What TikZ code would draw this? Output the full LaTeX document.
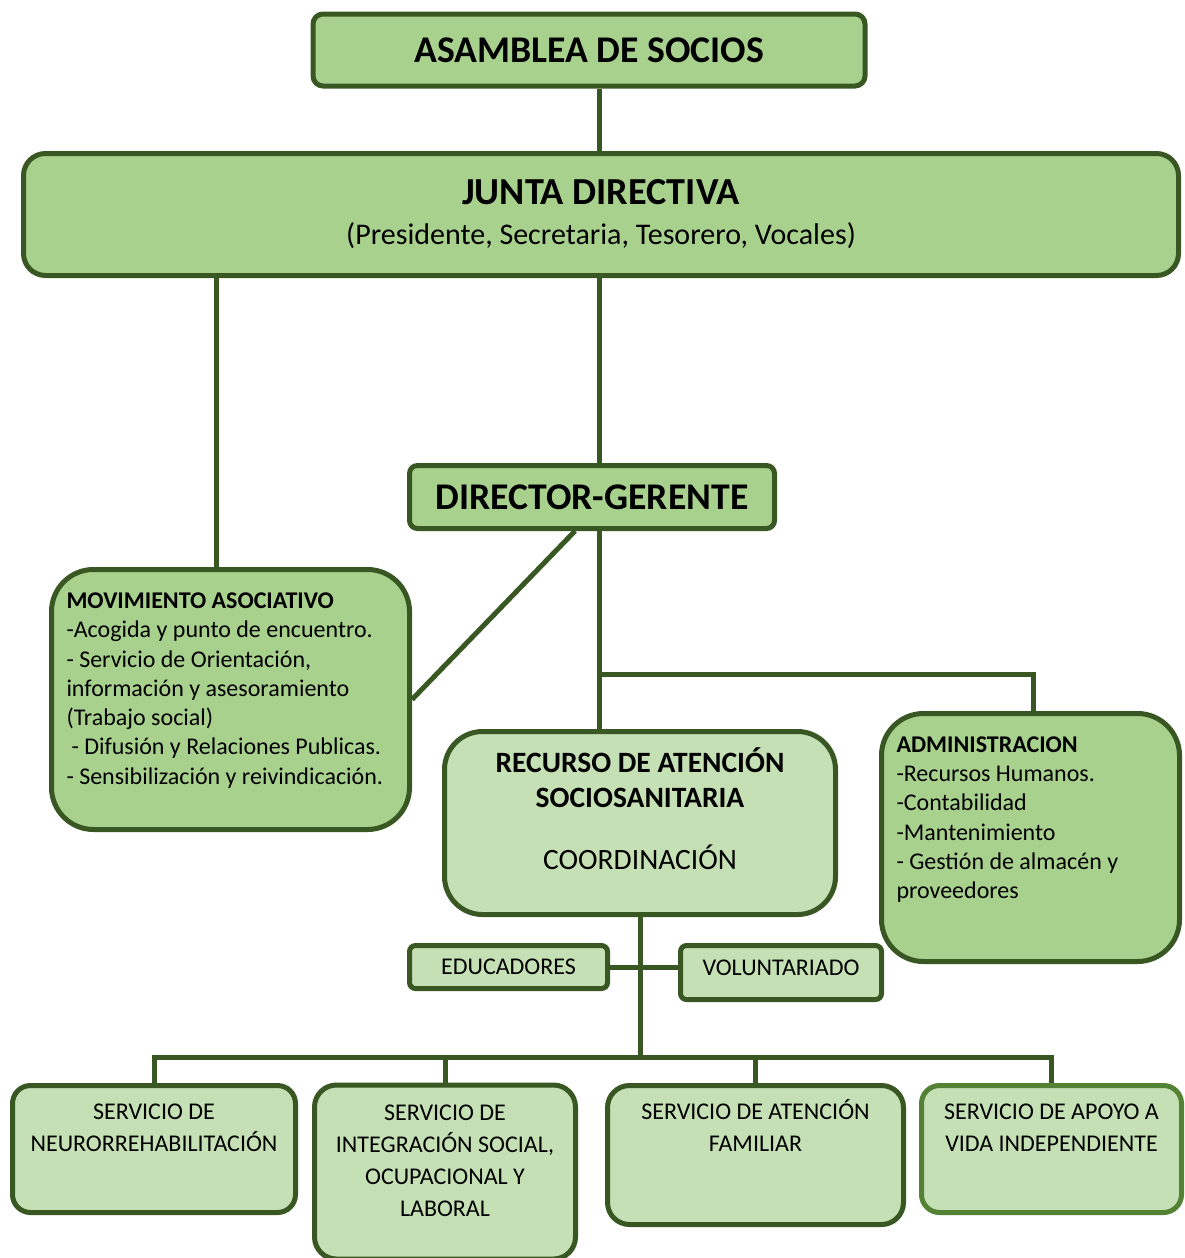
\documentclass[tikz,border=0pt]{standalone}
\usepackage{fontspec}
\setmainfont{Carlito}
\usetikzlibrary{positioning}

\definecolor{verdeoscuro}{HTML}{385723}
\definecolor{verdeborde}{HTML}{548235}
\definecolor{verdemedio}{HTML}{A9D18E}
\definecolor{verdeclaro}{HTML}{C5E0B4}

\newcommand{\titulo}{\fontsize{37.7}{40}\selectfont\bfseries}
\newcommand{\texto}{\fontsize{24}{29.3}\selectfont}
\newcommand{\servicio}{\fontsize{24}{32}\selectfont}
\newcommand{\hueco}[1]{\rule[-#1]{0pt}{#1}}

\tikzset{
  caja/.style={draw=verdeoscuro, line width=5pt, fill=verdemedio, inner sep=0pt, align=center},
  clara/.style={caja, fill=verdeclaro},
  lista/.style={caja, align=flush left, inner xsep=15pt},
  linea/.style={draw=verdeoscuro, line width=5pt},
}

\begin{document}
\begin{tikzpicture}[x=1pt, y=-1pt]
  \useasboundingbox (0,0) rectangle (1185,1258);

  \node[caja, rounded corners=10pt, minimum width=552pt, minimum height=72pt] (asamblea) at (589,50) {\titulo ASAMBLEA DE SOCIOS};
  \node[caja, rounded corners=22pt, minimum width=1155pt, minimum height=122pt, font=\fontsize{30}{40}\selectfont] (junta) at (601,214.5)
    {{\titulo\fontsize{38.2}{40}\selectfont JUNTA DIRECTIVA}\\ (Presidente, Secretaria, Tesorero, Vocales)};
  \node[caja, rounded corners=8pt, minimum width=365pt, minimum height=63pt] (director) at (592,497) {\titulo DIRECTOR-GERENTE};

  \node[lista, rounded corners=42pt, minimum width=358pt, minimum height=260pt, text width=328pt, font=\texto] (movimiento) at (230.5,699.5)
    {\textbf{MOVIMIENTO ASOCIATIVO}\\ -Acogida y punto de encuentro.\\ - Servicio de Orientación,\\ información y asesoramiento\\ (Trabajo social)\\
     \hspace*{5pt}- Difusión y Relaciones Publicas.\\ - Sensibilización y reivindicación.\hueco{22pt}};
  \node[clara, rounded corners=38pt, minimum width=391pt, minimum height=183pt, font=\fontsize{29.5}{35}\selectfont] (recurso) at (640,823)
    {\textbf{RECURSO DE ATENCIÓN}\\ \textbf{SOCIOSANITARIA}\\[27pt] COORDINACIÓN\hueco{28pt}};
  \node[lista, rounded corners=42pt, minimum width=298pt, minimum height=248pt, text width=268pt, font=\texto] (admin) at (1030.5,837.5)
    {\textbf{ADMINISTRACION}\\ -Recursos Humanos.\\ -Contabilidad\\ -Mantenimiento\\ - Gestión de almacén y\\ proveedores\hueco{40pt}};

  \node[clara, rounded corners=6pt, minimum width=198pt, minimum height=43pt, font=\texto] (educadores) at (508.5,967) {EDUCADORES};
  \node[clara, rounded corners=6pt, minimum width=201pt, minimum height=54pt, font=\texto] (voluntariado) at (781,972.5) {VOLUNTARIADO\hueco{10pt}};

  \node[clara, rounded corners=18pt, minimum width=283pt, minimum height=127pt, font=\servicio] (neuro) at (154,1149)
    {SERVICIO DE\\ NEURORREHABILITACIÓN\hueco{42pt}};
  \node[clara, rounded corners=22pt, minimum width=261pt, minimum height=174pt, font=\servicio] (integracion) at (445,1172)
    {SERVICIO DE\\ INTEGRACIÓN SOCIAL,\\ OCUPACIONAL Y\\ LABORAL\hueco{22pt}};
  \node[clara, rounded corners=22pt, minimum width=296pt, minimum height=139pt, font=\servicio] (familiar) at (755.5,1155)
    {SERVICIO DE ATENCIÓN\\ FAMILIAR\hueco{60pt}};
  \node[clara, draw=verdeborde, rounded corners=18pt, minimum width=260pt, minimum height=127pt, font=\servicio] (apoyo) at (1051.5,1149)
    {SERVICIO DE APOYO A\\ VIDA INDEPENDIENTE\hueco{42pt}};

  % lineas
  \draw[linea] ([xshift=-2pt]junta.north) -- ([xshift=-2pt]junta.north |- asamblea.south);
  \draw[linea] ([xshift=-14pt]movimiento.north) -- ([xshift=-14pt]movimiento.north |- junta.south);
  \draw[linea] ([xshift=-2pt]junta.south) -- ([xshift=-2pt]junta.south |- director.north);
  \draw[linea] ([xshift=-17pt]director.south) -- (movimiento.east);
  \draw[linea] ([xshift=7pt]director.south) -- ++(0,143.5) coordinate (rama) -| ([xshift=3pt]admin.north);
  \draw[linea] (rama) -- (rama |- recurso.north);
  \draw[linea] (recurso.south) -- ++(0,140.5) coordinate (bus);
  \draw[linea] (educadores.east) -- (educadores.east -| voluntariado.west);
  \draw[linea] (neuro.north) |- (bus) -| (apoyo.north);
  \foreach \s in {integracion,familiar}
    \draw[linea] (bus -| \s.north) -- (\s.north);
\end{tikzpicture}
\end{document}
